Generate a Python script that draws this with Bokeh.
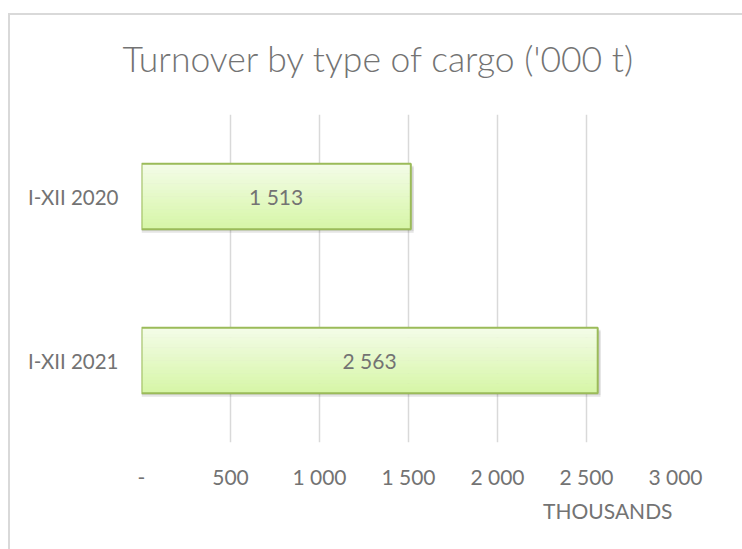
from bokeh.plotting import figure
from bokeh.models import (ColumnDataSource, FactorRange, Range1d, FixedTicker,
                          Title, LabelSet, InlineStyleSheet)
from bokeh.transform import dodge
from bokeh.core.properties import value
from bokeh.embed import file_html
from bokeh.resources import INLINE

# ---- data ----
categories = ["I-XII 2020", "I-XII 2021"]
turnover = [1513, 2563]
value_labels = ["1 513", "2 563"]
tick_values = [0, 500, 1000, 1500, 2000, 2500, 3000]
tick_labels = ["-", "500", "1 000", "1 500", "2 000", "2 500", "3 000"]
title_text = "Turnover by type of cargo ('000 t)"
unit_text = "THOUSANDS"

FONT = "Lato"
TEXT = "#737373"
GRID = "#d9d9d9"
BAR_H = 0.4

src = ColumnDataSource(dict(
    cat=categories,
    val=turnover,
    mid=[v / 2 for v in turnover],
    shadow=[v + 16 for v in turnover],
    lab=value_labels,
))

p = figure(
    y_range=FactorRange(factors=categories[::-1]),
    x_range=Range1d(tick_values[0], tick_values[-1]),
    frame_width=534, frame_height=328,
    min_border_left=141, min_border_right=67,
    min_border_top=114, min_border_bottom=107,
    output_backend="svg", toolbar_location=None,
)
p.background_fill_color = "white"
p.border_fill_color = "white"
p.outline_line_color = None

# chart-area border (left and top edges, the rest lies outside the picture)
p.stylesheets = [InlineStyleSheet(css="""
:host::after {
  content: "";
  position: absolute;
  left: 8px; top: 13px; right: 0px; bottom: 0px;
  border-left: 2px solid #d9d9d9;
  border-top: 2px solid #d9d9d9;
  pointer-events: none;
  z-index: 10;
}
""")]

# title
p.title.text = title_text
p.title.text_font = "'Lato Light', Lato"
p.title.text_font_size = "35.5px"
p.title.text_font_style = "normal"
p.title.text_color = TEXT
p.title.align = "left"
p.title.offset = -19
p.title.standoff = 69

# axes
xa = p.xaxis[0]
xa.ticker = FixedTicker(ticks=tick_values)
xa.major_label_overrides = {t: l for t, l in zip(tick_values, tick_labels)}
xa.axis_line_color = None
xa.major_tick_line_color = None
xa.minor_tick_line_color = None
xa.major_label_text_font = FONT
xa.major_label_text_font_size = "21px"
xa.major_label_text_color = TEXT
xa.major_label_standoff = 15

ya = p.yaxis[0]
ya.axis_line_color = None
ya.major_tick_line_color = None
ya.minor_tick_line_color = None
ya.major_label_text_font = FONT
ya.major_label_text_font_size = "20.5px"
ya.major_label_text_color = TEXT
ya.major_label_standoff = 17

p.xgrid.ticker = FixedTicker(ticks=tick_values)
p.xgrid.grid_line_color = GRID
p.xgrid.grid_line_width = 1.5
p.ygrid.grid_line_color = None

unit = Title(text=unit_text, align="right", offset=3,
             text_font=FONT, text_font_size="21px",
             text_font_style="normal", text_color=TEXT, standoff=9)
p.add_layout(unit, "below")

# shadow
p.hbar(y=dodge("cat", -0.022, range=p.y_range), left=0, right="shadow",
       height=BAR_H, source=src, fill_color="#000000", fill_alpha=0.08,
       line_color=None)
p.hbar(y=dodge("cat", -0.012, range=p.y_range), left=0, right="shadow",
       height=BAR_H, source=src, fill_color="#000000", fill_alpha=0.10,
       line_color=None)

# gradient body
n = 20
top_c = (244, 252, 233)
bot_c = (214, 246, 166)
for i in range(n):
    t = (i + 0.5) / n
    c = tuple(int(round(top_c[k] + (bot_c[k] - top_c[k]) * t)) for k in range(3))
    off = BAR_H / 2 - (i + 0.5) * BAR_H / n
    p.hbar(y=dodge("cat", off, range=p.y_range), left=0, right="val",
           height=BAR_H / n * 1.15, source=src,
           fill_color="#%02x%02x%02x" % c, line_color=None)

# outline
p.hbar(y="cat", left=0, right="val", height=BAR_H, source=src,
       fill_color=None, line_color="#9bbb59", line_width=2)

labels = LabelSet(x="mid", y="cat", text="lab", source=src,
                  text_align="center", text_baseline="middle",
                  text_font=value(FONT), text_font_size="21px",
                  text_color=TEXT)
p.add_layout(labels)

open("out.html", "w").write(file_html(p, INLINE))
